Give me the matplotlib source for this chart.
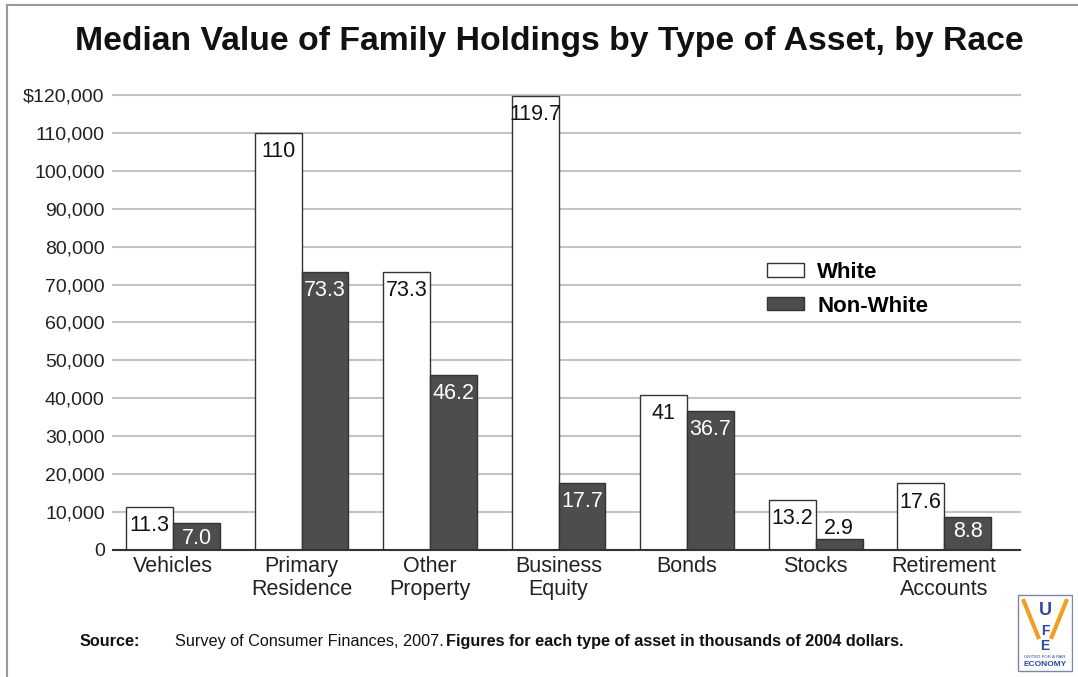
import matplotlib
matplotlib.use("Agg")
import matplotlib.pyplot as plt
from matplotlib.lines import Line2D
from matplotlib.patches import Rectangle
import numpy as np

plt.rcParams['font.family'] = ['Liberation Sans', 'DejaVu Sans']

categories = ["Vehicles", "Primary\nResidence", "Other\nProperty", "Business\nEquity",
              "Bonds", "Stocks", "Retirement\nAccounts"]
white = [11.3, 110, 73.3, 119.7, 41, 13.2, 17.6]
non_white = [7.0, 73.3, 46.2, 17.7, 36.7, 2.9, 8.8]
white_labels = ["11.3", "110", "73.3", "119.7", "41", "13.2", "17.6"]
non_white_labels = ["7.0", "73.3", "46.2", "17.7", "36.7", "2.9", "8.8"]
yticks = np.arange(0, 120001, 10000)
ytick_labels = ["0"] + ["{:,}".format(v) for v in yticks[1:-1]] + ["$120,000"]

dark = "#4d4d4d"

fig = plt.figure(figsize=(10.78, 6.77), dpi=100)
ax = fig.add_axes([0.1048, 0.1876, 0.8414, 0.6721])

x = np.arange(len(categories))
w = 0.365
b1 = ax.bar(x - w / 2, np.array(white) * 1000, w, color="white", edgecolor="#333333",
            linewidth=1.0, label="White", zorder=3)
b2 = ax.bar(x + w / 2, np.array(non_white) * 1000, w, color=dark, edgecolor="#333333",
            linewidth=1.0, label="Non-White", zorder=3)

for xi, v, s in zip(x, white, white_labels):
    ax.annotate(s, (xi - w / 2, v * 1000), xytext=(0, -6), textcoords="offset points",
                ha="center", va="top", fontsize=15.5, color="#111111", zorder=4)
for xi, v, s in zip(x, non_white, non_white_labels):
    if v < 5:
        # too short to hold its label, so it goes on top
        ax.annotate(s, (xi + w / 2, v * 1000), xytext=(0, 0), textcoords="offset points",
                    ha="center", va="bottom", fontsize=15.5, color="#111111", zorder=4)
    else:
        off = -3 if v < 10 else -6
        ax.annotate(s, (xi + w / 2, v * 1000), xytext=(0, off), textcoords="offset points",
                    ha="center", va="top", fontsize=15.5, color="white", zorder=4)

ax.set_xlim(-0.467, 6.59)
ax.set_ylim(0, 120000)
ax.set_yticks(yticks)
ax.set_yticklabels(ytick_labels, fontsize=14, color="#222222")
ax.set_xticks(x)
ax.set_xticklabels(categories, fontsize=15.5, color="#222222", linespacing=1.1)
ax.tick_params(axis="y", length=0, pad=6)
ax.tick_params(axis="x", length=0, pad=4.5)
ax.yaxis.grid(True, color="#c4c4c4", linewidth=1.5, zorder=0, clip_on=False)
for s in ["top", "right", "left"]:
    ax.spines[s].set_visible(False)
ax.spines["bottom"].set_color("#333333")
ax.spines["bottom"].set_linewidth(1.5)
ax.spines["bottom"].set_zorder(5)

ax.legend(loc="upper left", bbox_to_anchor=(0.693, 0.643), bbox_transform=fig.transFigure,
          frameon=False, prop={"weight": "bold", "size": 16}, handlelength=1.65,
          handleheight=0.55, labelspacing=0.58, handletextpad=0.6)

fig.text(0.51, 0.938, "Median Value of Family Holdings by Type of Asset, by Race",
         ha="center", va="center", fontsize=24.3, fontweight="bold", color="#111111")

src_y = 1 - 646 / 677
fig.text(80 / 1078, src_y, "Source:", ha="left", va="baseline", fontsize=11.7,
         fontweight="bold", color="#111111")
fig.text(175 / 1078, src_y, "Survey of Consumer Finances, 2007.", ha="left",
         va="baseline", fontsize=11.7, color="#111111")
fig.text(446 / 1078, src_y,
         "Figures for each type of asset in thousands of 2004 dollars.", ha="left",
         va="baseline", fontsize=11.7, fontweight="bold", color="#111111")

# page frame
fig.add_artist(Line2D([7 / 1078, 1.0], [1 - 5 / 677, 1 - 5 / 677], color="#9a9a9a", lw=1.5))
fig.add_artist(Line2D([7 / 1078, 7 / 1078], [0, 1 - 5 / 677], color="#9a9a9a", lw=1.5))

# small organisation badge
lx = fig.add_axes([1017 / 1078, 1 - 673 / 677, 56 / 1078, 80 / 677])
lx.set_xlim(0, 1)
lx.set_ylim(0, 1)
lx.axis("off")
lx.add_patch(Rectangle((0.02, 0.02), 0.96, 0.96, fill=False, edgecolor="#7a86a8", lw=1))
lx.plot([0.12, 0.38], [0.9, 0.45], color="#f0a020", lw=3)
lx.plot([0.88, 0.62], [0.9, 0.45], color="#f0a020", lw=3)
lx.text(0.5, 0.78, "U", ha="center", va="center", fontsize=13, fontweight="bold", color="#2b4aa0")
lx.text(0.5, 0.52, "F", ha="center", va="center", fontsize=10, fontweight="bold", color="#2b4aa0")
lx.text(0.5, 0.34, "E", ha="center", va="center", fontsize=10, fontweight="bold", color="#2b4aa0")
lx.text(0.5, 0.2, "UNITED FOR A FAIR", ha="center", va="center", fontsize=3.2, color="#2b4aa0")
lx.text(0.5, 0.1, "ECONOMY", ha="center", va="center", fontsize=6, fontweight="bold",
        color="#2b4aa0")

fig.savefig("out.png", dpi=100, facecolor="white")
